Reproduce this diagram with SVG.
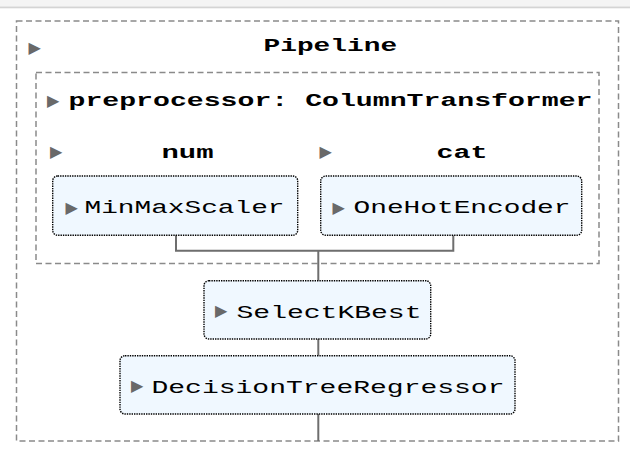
<svg xmlns="http://www.w3.org/2000/svg" width="630" height="466" viewBox="0 0 630 466">
<style>
.bg{fill:#ffffff}
.dash{fill:none;stroke:#8a8a8a;stroke-width:1.5;stroke-dasharray:6 3.5}
.est{fill:#f0f8ff;stroke:#000000;stroke-width:1.4;stroke-dasharray:1.4 1}
.lbl{font-family:"Liberation Mono","Courier New",monospace;font-size:18.7px;fill:#000000}
.b{font-weight:bold}
.tg{font-family:"DejaVu Sans",sans-serif;font-size:16px;fill:#696969}
.conn{fill:none;stroke:#6e6e6e;stroke-width:2}
</style>
<rect class="bg" x="0" y="0" width="630" height="466"/>
<rect x="0" y="0" width="630" height="6.5" fill="#f4f4f4"/>
<rect x="0" y="6.5" width="630" height="1.8" fill="#d4d4d4"/>

<g id="pipeline">
<rect class="dash" x="16.5" y="21" width="602" height="420"/>
<text class="tg" x="28.5" y="53">▶</text>
<text class="lbl b" x="263.5" y="51" textLength="133.6" lengthAdjust="spacingAndGlyphs">Pipeline</text>
</g>

<g id="preprocessor">
<rect class="dash" x="36" y="72.5" width="563" height="191"/>
<text class="tg" x="47" y="106">▶</text>
<text class="lbl b" x="68.5" y="106" textLength="524" lengthAdjust="spacingAndGlyphs">preprocessor: ColumnTransformer</text>
</g>

<g id="num">
<text class="tg" x="50" y="157">▶</text>
<text class="lbl b" x="161.5" y="158.3" textLength="52" lengthAdjust="spacingAndGlyphs">num</text>
</g>

<g id="cat">
<text class="tg" x="319.5" y="157">▶</text>
<text class="lbl b" x="436.5" y="158.3" textLength="51" lengthAdjust="spacingAndGlyphs">cat</text>
</g>

<g id="connectors">
<polyline class="conn" points="176,235.3 176,250.7 453.3,250.7 453.3,235.3"/>
<line class="conn" x1="318.3" y1="250.7" x2="318.3" y2="280.7"/>
<line class="conn" x1="318.3" y1="339" x2="318.3" y2="355.7"/>
<line class="conn" x1="318.3" y1="414" x2="318.3" y2="441"/>
</g>

<g id="minmaxscaler">
<rect class="est" x="52.7" y="176" width="245" height="59.3" rx="5"/>
<text class="tg" x="65.5" y="213">▶</text>
<text class="lbl" x="84.5" y="213.3" textLength="200" lengthAdjust="spacingAndGlyphs">MinMaxScaler</text>
</g>

<g id="onehotencoder">
<rect class="est" x="320.7" y="176" width="261" height="59.3" rx="5"/>
<text class="tg" x="332.5" y="213">▶</text>
<text class="lbl" x="353.5" y="213.3" textLength="217" lengthAdjust="spacingAndGlyphs">OneHotEncoder</text>
</g>

<g id="selectkbest">
<rect class="est" x="204" y="280.7" width="226.7" height="58.3" rx="5"/>
<text class="tg" x="215" y="315.5">▶</text>
<text class="lbl" x="236.5" y="318" textLength="185" lengthAdjust="spacingAndGlyphs">SelectKBest</text>
</g>

<g id="decisiontreeregressor">
<rect class="est" x="120" y="355.7" width="395" height="58.3" rx="5"/>
<text class="tg" x="131" y="390.5">▶</text>
<text class="lbl" x="151.5" y="393.3" textLength="353" lengthAdjust="spacingAndGlyphs">DecisionTreeRegressor</text>
</g>
</svg>
